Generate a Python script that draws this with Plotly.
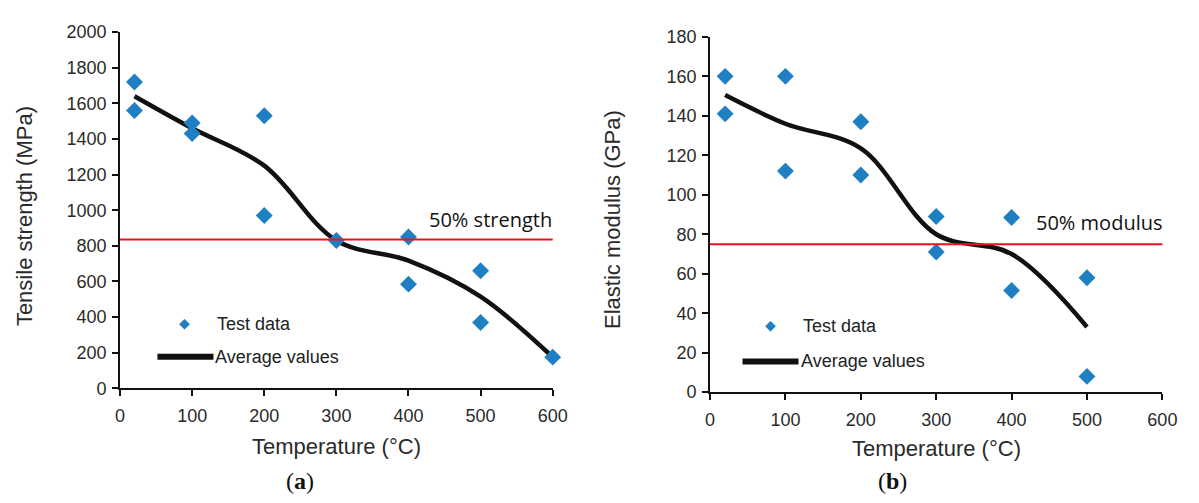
import plotly.graph_objects as go

W, H = 1199, 503

# ---- Panel (a): tensile strength ----
temp_a_test = [20, 20, 100, 100, 200, 200, 300, 400, 400, 500, 500, 600]
strength_test = [1720, 1560, 1490, 1430, 1530, 970, 830, 850, 585, 660, 370, 175]
temp_a_avg = [20, 100, 200, 300, 400, 500, 600]
strength_avg = [1640, 1460, 1250, 830, 717, 515, 175]
strength_50 = 835

# ---- Panel (b): elastic modulus ----
temp_b_test = [20, 20, 100, 100, 200, 200, 300, 300, 400, 400, 500, 500]
modulus_test = [160, 141, 160, 112, 137, 110, 89, 71, 88.5, 51.5, 58, 8]
temp_b_avg = [20, 100, 200, 300, 400, 500]
modulus_avg = [150.5, 136, 123.5, 80, 70, 33]
modulus_50 = 75

x_ticks = [0, 100, 200, 300, 400, 500, 600]
y_ticks_a = list(range(0, 2001, 200))
y_ticks_b = list(range(0, 181, 20))

BLUE = "#1f7fc3"
TICK_FONT = dict(family="Liberation Sans, Arial, sans-serif", size=18, color="#2a2a2a")
TITLE_FONT = dict(family="Liberation Sans, Arial, sans-serif", size=22, color="#2a2a2a")
NOTE_FONT = dict(family="Open Sans, Noto Sans, sans-serif", size=20, color="#111111")


def px(x, y):
    """Pixel position on the page -> paper coordinates."""
    return x / W, 1 - y / H


fig = go.Figure()

# data traces
fig.add_trace(go.Scatter(x=temp_a_avg, y=strength_avg, mode="lines",
                         line=dict(color="#111111", width=4.5, shape="spline", smoothing=1.0),
                         xaxis="x", yaxis="y", showlegend=False, cliponaxis=False))
fig.add_trace(go.Scatter(x=temp_a_test, y=strength_test, mode="markers",
                         marker=dict(symbol="diamond", size=13, color=BLUE),
                         xaxis="x", yaxis="y", showlegend=False, cliponaxis=False))
fig.add_trace(go.Scatter(x=temp_b_avg, y=modulus_avg, mode="lines",
                         line=dict(color="#111111", width=4.5, shape="spline", smoothing=1.0),
                         xaxis="x2", yaxis="y2", showlegend=False, cliponaxis=False))
fig.add_trace(go.Scatter(x=temp_b_test, y=modulus_test, mode="markers",
                         marker=dict(symbol="diamond", size=13, color=BLUE),
                         xaxis="x2", yaxis="y2", showlegend=False, cliponaxis=False))

axis_common = dict(showline=True, linecolor="#111111", linewidth=2, ticks="outside",
                   ticklen=6, tickwidth=2, tickcolor="#111111", showgrid=False,
                   zeroline=False, tickfont=TICK_FONT)

fig.update_layout(
    width=W, height=H, margin=dict(l=0, r=0, t=0, b=0),
    paper_bgcolor="white", plot_bgcolor="white", showlegend=False,
    xaxis=dict(domain=[117 / W, 557 / W], range=[0, 600], tickvals=x_ticks,
               anchor="y", ticklabelstandoff=4, **axis_common),
    yaxis=dict(domain=[1 - 394 / H, 1 - 23 / H], range=[0, 2000], tickvals=y_ticks_a,
               anchor="x", ticklabelstandoff=2, **axis_common),
    xaxis2=dict(domain=[717 / W, 1177 / W], range=[0, 600], tickvals=x_ticks,
                anchor="y2", ticklabelstandoff=4, **axis_common),
    yaxis2=dict(domain=[1 - 398 / H, 1 - 28 / H], range=[0, 180], tickvals=y_ticks_b,
                anchor="x2", ticklabelstandoff=2, **axis_common),
)

# 50 % reference lines
fig.add_shape(type="line", xref="x domain", yref="y", x0=0, x1=1,
              y0=strength_50, y1=strength_50, line=dict(color="#e8141c", width=2))
fig.add_shape(type="line", xref="x2 domain", yref="y2", x0=0, x1=1,
              y0=modulus_50, y1=modulus_50, line=dict(color="#e8141c", width=2))

annotations = []


def label(text, x, y, font, xanchor="left", textangle=0):
    ax, ay = px(x, y)
    annotations.append(dict(text=text, x=ax, y=ay, xref="paper", yref="paper",
                            showarrow=False, xanchor=xanchor, yanchor="middle",
                            font=font, textangle=textangle))


label("50% strength", 429, 218, NOTE_FONT)
label("50% modulus", 1046, 221, NOTE_FONT)

# axis titles
label("Temperature (°C)", 337, 455, TITLE_FONT, xanchor="center")
label("Temperature (°C)", 947, 457, TITLE_FONT, xanchor="center")
label("Tensile strength (MPa)", 20, 215, TITLE_FONT, xanchor="center", textangle=-90)
label("Elastic modulus (GPa)", 618, 218, TITLE_FONT, xanchor="center", textangle=-90)

# panel letters
PANEL_FONT = dict(family="Liberation Serif, Times New Roman, serif", size=24, color="#111111")
label("(<b>a</b>)", 300, 490, PANEL_FONT, xanchor="center")
label("(<b>b</b>)", 903, 490, PANEL_FONT, xanchor="center")

# hand-placed legends
LEG_FONT = dict(family="Liberation Sans, Arial, sans-serif", size=18, color="#222222")
for dx, dy, line_y in [(0, 0, 361), (595, 2, 366)]:
    label("◆", 183 + dx, 326 + dy, dict(family="DejaVu Sans", size=14, color=BLUE), xanchor="center")
    label("Test data", 214 + dx, 327 + dy, LEG_FONT)
    x0, y0 = px(155 + dx, line_y)
    x1, _ = px(212 + dx, line_y)
    fig.add_shape(type="line", xref="paper", yref="paper", x0=x0, x1=x1, y0=y0, y1=y0,
                  line=dict(color="#111111", width=6))
    label("Average values", 212 + dx, line_y, LEG_FONT)

fig.update_layout(annotations=annotations)

fig.write_html("out.html")
